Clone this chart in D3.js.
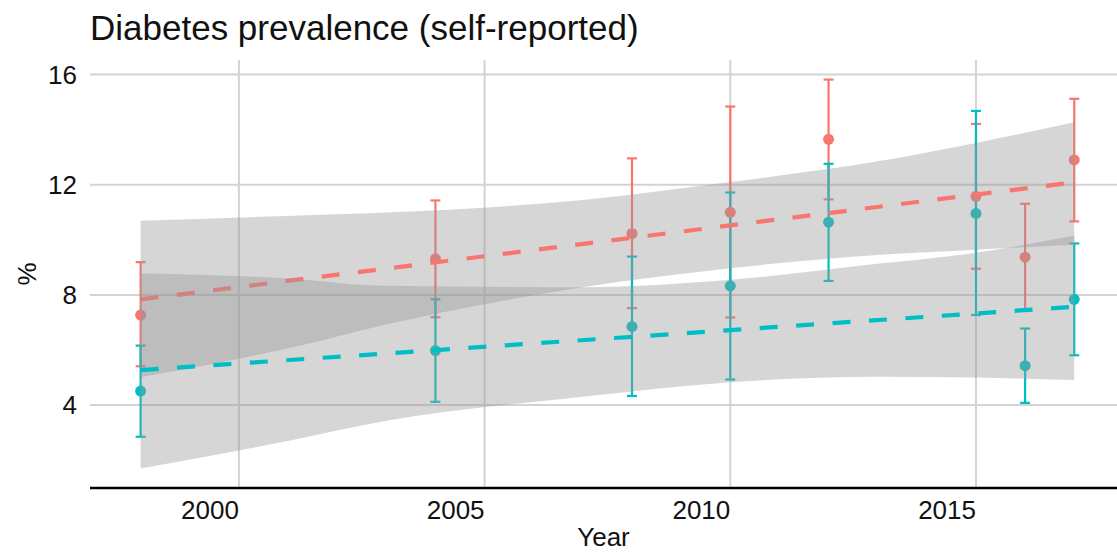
<!DOCTYPE html>
<html>
<head>
<meta charset="utf-8">
<script src="https://cdn.jsdelivr.net/npm/d3@7"></script>
<style>
  html, body { margin: 0; padding: 0; background: #fff; }
  svg { display: block; font-family: "Liberation Sans", Arial, sans-serif; }
</style>
</head>
<body>
<svg id="chart" width="1117" height="553"></svg>
<script>
// survey years and estimates (%), two groups
const years = [1998, 2004, 2008, 2010, 2012, 2015, 2016, 2017];

const redMean  = [7.27, 9.31, 10.23, 11.00, 13.65, 11.58, 9.37, 12.90];
const redLow   = [5.41, 7.19, 7.52, 7.18, 11.47, 8.95, 7.43, 10.67];
const redHigh  = [9.19, 11.43, 12.96, 14.84, 15.82, 14.21, 11.31, 15.12];

const tealMean = [4.51, 5.98, 6.85, 8.33, 10.64, 10.96, 5.43, 7.84];
const tealLow  = [2.85, 4.12, 4.33, 4.93, 8.51, 7.27, 4.08, 5.81];
const tealHigh = [6.16, 7.84, 9.39, 11.72, 12.76, 14.68, 6.78, 9.87];

// fitted trend lines (endpoints) and confidence bands
const fitYears = [1998, 2017];
const redFit  = [7.84, 12.09];
const tealFit = [5.27, 7.57];

const bandYears  = [1998, 2001, 2003, 2007, 2010, 2013, 2015, 2017];
const redBandLo  = [5.01, 6.06, 6.93, 8.28, 8.97, 9.45, 9.64, 9.82];
const redBandHi  = [10.69, 10.87, 10.99, 11.45, 12.10, 12.85, 13.52, 14.27];
const tealBandLo = [1.70, 2.70, 3.43, 4.30, 4.83, 5.03, 5.00, 4.91];
const tealBandHi = [8.78, 8.60, 8.33, 8.28, 8.55, 9.13, 9.53, 10.16];

const xTicks = [2000, 2005, 2010, 2015];
const yTicks = [4, 8, 12, 16];

const RED = "#F8766D";
const TEAL = "#00BFC4";

const svg = d3.select("#chart");
const panel = { left: 90, right: 1117, top: 60, bottom: 488 };

const x = d3.scaleLinear().domain([1996.97, 2017.87]).range([panel.left, panel.right]);
const y = d3.scaleLinear().domain([0.99, 16.53]).range([panel.bottom, panel.top]);

// grid
const grid = svg.append("g").attr("stroke", "#d3d3d3").attr("stroke-width", 2);
grid.selectAll(".hgrid")
  .data(yTicks)
  .enter()
  .append("line")
  .attr("x1", panel.left)
  .attr("x2", panel.right)
  .attr("y1", d => y(d))
  .attr("y2", d => y(d));
grid.selectAll(".vgrid")
  .data(xTicks)
  .enter()
  .append("line")
  .attr("x1", d => x(d))
  .attr("x2", d => x(d))
  .attr("y1", panel.top)
  .attr("y2", panel.bottom);

const series = [
  { color: RED, mean: redMean, lo: redLow, hi: redHigh, fit: redFit, bandLo: redBandLo, bandHi: redBandHi },
  { color: TEAL, mean: tealMean, lo: tealLow, hi: tealHigh, fit: tealFit, bandLo: tealBandLo, bandHi: tealBandHi }
];

// error bars
const capHalf = 5;
series.forEach(s => {
  const g = svg.append("g").attr("stroke", s.color).attr("stroke-width", 2.2).attr("fill", "none");
  years.forEach((yr, i) => {
    const cx = x(yr);
    g.append("line").attr("x1", cx).attr("x2", cx).attr("y1", y(s.lo[i])).attr("y2", y(s.hi[i]));
    g.append("line").attr("x1", cx - capHalf).attr("x2", cx + capHalf).attr("y1", y(s.lo[i])).attr("y2", y(s.lo[i]));
    g.append("line").attr("x1", cx - capHalf).attr("x2", cx + capHalf).attr("y1", y(s.hi[i])).attr("y2", y(s.hi[i]));
  });
});

// points
series.forEach(s => {
  svg.append("g")
    .selectAll("circle")
    .data(years)
    .enter()
    .append("circle")
    .attr("cx", d => x(d))
    .attr("cy", (d, i) => y(s.mean[i]))
    .attr("r", 5.5)
    .attr("fill", s.color);
});

// smooth: ribbon then dashed line, per group
const band = d3.area()
  .x(d => x(d.yr))
  .y0(d => y(d.lo))
  .y1(d => y(d.hi))
  .curve(d3.curveMonotoneX);

const fitLine = d3.line()
  .x(d => x(d.yr))
  .y(d => y(d.v));

series.forEach(s => {
  const bandData = bandYears.map((yr, i) => ({ yr: yr, lo: s.bandLo[i], hi: s.bandHi[i] }));
  svg.append("path")
    .attr("d", band(bandData))
    .attr("fill", "#999999")
    .attr("fill-opacity", 0.4);
  svg.append("path")
    .attr("d", fitLine(fitYears.map((yr, i) => ({ yr: yr, v: s.fit[i] }))))
    .attr("fill", "none")
    .attr("stroke", s.color)
    .attr("stroke-width", 4.2)
    .attr("stroke-dasharray", "18,18.5");
});

// x axis line
svg.append("line")
  .attr("x1", panel.left)
  .attr("x2", panel.right)
  .attr("y1", panel.bottom)
  .attr("y2", panel.bottom)
  .attr("stroke", "#000")
  .attr("stroke-width", 2.5);

// tick labels
svg.append("g")
  .selectAll("text")
  .data(yTicks)
  .enter()
  .append("text")
  .attr("x", 77)
  .attr("y", d => y(d))
  .attr("dy", "0.36em")
  .attr("text-anchor", "end")
  .attr("font-size", 26)
  .attr("fill", "#111")
  .text(d => d);

svg.append("g")
  .selectAll("text")
  .data(xTicks)
  .enter()
  .append("text")
  .attr("x", d => x(d))
  .attr("y", 519)
  .attr("text-anchor", "end")
  .attr("font-size", 26)
  .attr("fill", "#111")
  .text(d => d);

// axis titles
svg.append("text")
  .attr("x", (panel.left + panel.right) / 2)
  .attr("y", 546)
  .attr("text-anchor", "middle")
  .attr("font-size", 26)
  .attr("fill", "#111")
  .text("Year");

svg.append("text")
  .attr("transform", "translate(36," + (panel.top + panel.bottom) / 2 + ") rotate(-90)")
  .attr("text-anchor", "middle")
  .attr("font-size", 26)
  .attr("fill", "#111")
  .text("%");

svg.append("text")
  .attr("x", panel.left)
  .attr("y", 40)
  .attr("font-size", 35)
  .attr("fill", "#111")
  .text("Diabetes prevalence (self-reported)");
</script>
</body>
</html>
